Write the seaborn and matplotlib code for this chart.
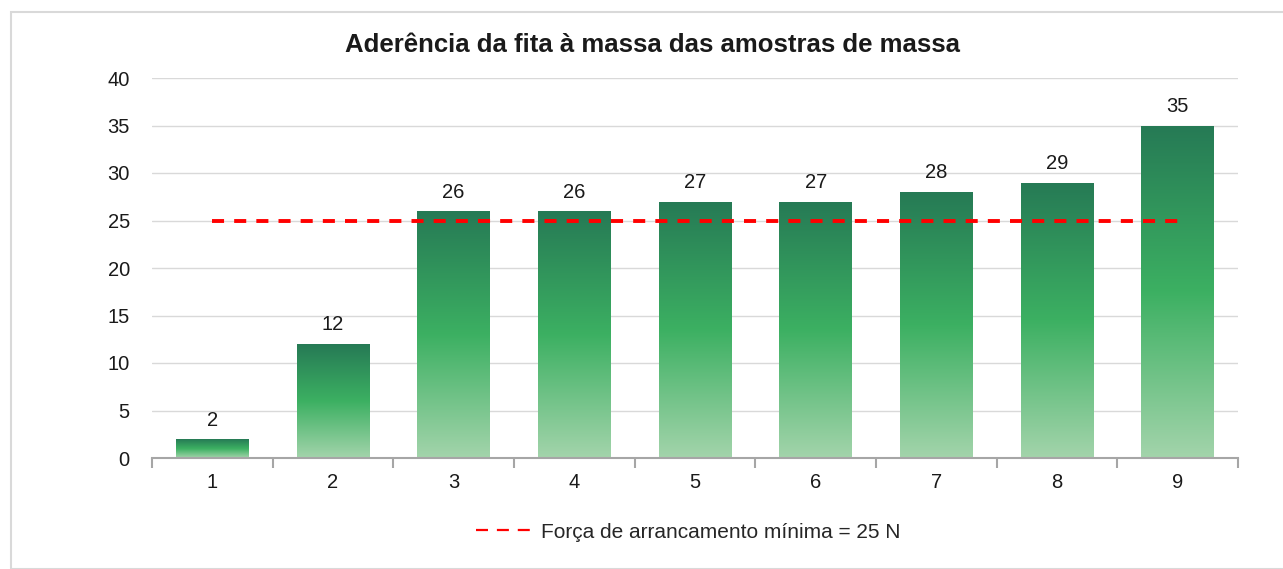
import numpy as np
import pandas as pd
import matplotlib
matplotlib.use("Agg")
import matplotlib.pyplot as plt
import seaborn as sns
from matplotlib.colors import LinearSegmentedColormap
from matplotlib.patches import Rectangle
from matplotlib.lines import Line2D

categories = ["1", "2", "3", "4", "5", "6", "7", "8", "9"]
values = [2, 12, 26, 26, 27, 27, 28, 29, 35]
min_force = 25
title = "Aderência da fita à massa das amostras de massa"
legend_label = "Força de arrancamento mínima = 25 N"

sns.set_theme(style="white")
plt.rcParams['font.family'] = ['Liberation Sans', 'DejaVu Sans']

fig = plt.figure(figsize=(12.83, 5.69), dpi=100)
# outer frame
fig.patches.append(Rectangle((11/1283, 0.0), 1.0, 1 - 12/569, transform=fig.transFigure,
                             fill=False, edgecolor="#d9d9d9", linewidth=1.5))
ax = fig.add_axes([152/1283, 1 - 458/569, (1238 - 152)/1283, (458 - 78)/569])

df = pd.DataFrame({"amostra": categories, "valor": values})
sns.barplot(data=df, x="amostra", y="valor", ax=ax, width=0.6, color="#3cb062",
            errorbar=None, saturation=1)

cmap = LinearSegmentedColormap.from_list("g", ["#a3d4ab", "#3cb062", "#267a55"])
grad = np.linspace(0, 1, 256).reshape(-1, 1)
for p in list(ax.patches):
    x0, y0 = p.get_x(), p.get_y()
    w, h = p.get_width(), p.get_height()
    im = ax.imshow(grad, cmap=cmap, origin="lower", aspect="auto",
                   extent=(x0, x0 + w, y0, y0 + h), zorder=2)
    im.set_clip_path(p)
    p.set_facecolor("none")
    p.set_edgecolor("none")

for i, v in enumerate(values):
    ax.text(i, v + 1.0, str(v), ha="center", va="bottom", fontsize=14.5, color="#1a1a1a", zorder=5)

xs = np.arange(len(categories))
ax.plot([xs[0], xs[-1]], [min_force, min_force], color="#ff0000", linewidth=2.8,
        dashes=(3.1, 2.6), zorder=4)

ax.set_xlim(-0.5, len(categories) - 0.5)
ax.set_ylim(0, 40)
ax.set_yticks(range(0, 41, 5))
ax.yaxis.grid(True, color="#d9d9d9", linewidth=1)
ax.set_axisbelow(True)
ax.set_xlabel("")
ax.set_ylabel("")
for s in ["top", "right", "left"]:
    ax.spines[s].set_visible(False)
ax.spines["bottom"].set_color("#a6a6a6")
ax.spines["bottom"].set_linewidth(1.5)
ax.set_xticks(np.arange(-0.5, len(categories), 1.0), minor=False)
ax.set_xticklabels([])
ax.set_xticks(xs, minor=True)
ax.set_xticklabels(categories, minor=True)
ax.tick_params(axis="x", which="major", length=7, width=1.5, color="#a6a6a6", direction="out", bottom=True)
ax.tick_params(axis="x", which="minor", length=0, labelsize=14.5, pad=11, labelcolor="#1a1a1a")
ax.tick_params(axis="y", length=0, labelsize=14.5, pad=16, labelcolor="#1a1a1a")

fig.text(653/1283, 1 - 45/569, title, ha="center", va="center", fontsize=18.5,
         fontweight="bold", color="#1a1a1a")

handle = Line2D([0], [0], color="#ff0000", linewidth=1.6, dashes=(5.4, 4.0))
fig.legend([handle], [legend_label], loc="center", bbox_to_anchor=(688/1283, 1 - 532/569),
           frameon=False, fontsize=15, handlelength=2.65, handletextpad=0.45)

fig.savefig("out.png", dpi=100)
